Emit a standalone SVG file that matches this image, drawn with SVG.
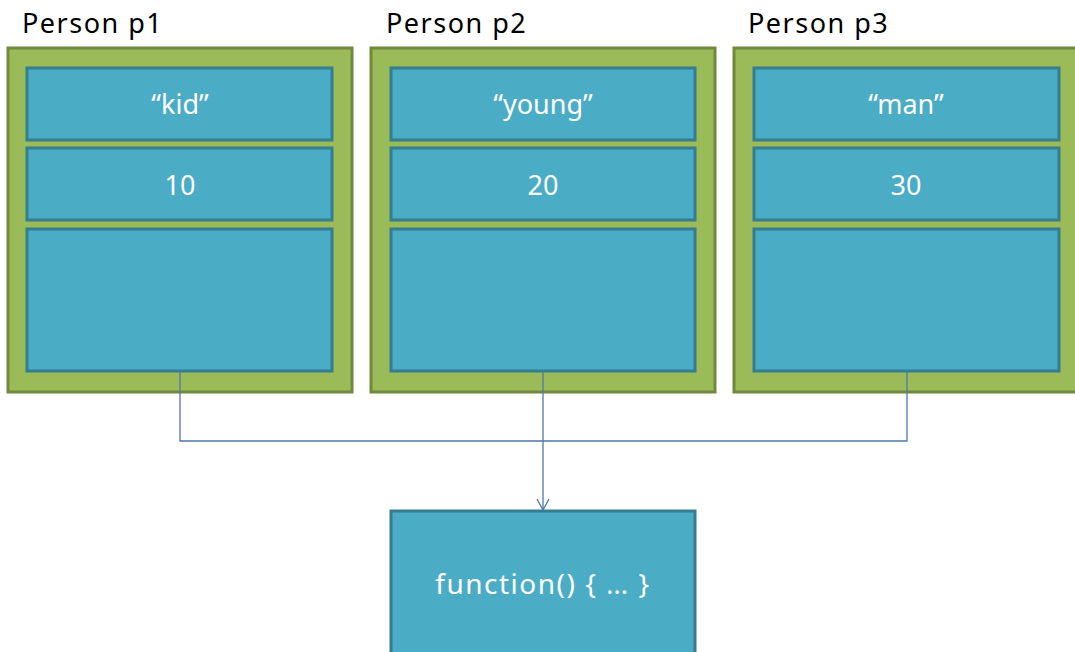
<svg xmlns="http://www.w3.org/2000/svg" width="1075" height="652" viewBox="0 0 1075 652">
<style>
.outer{fill:#9bbb59;stroke:#71893f;stroke-width:3}
.cell{fill:#4bacc6;stroke:#357d91;stroke-width:3}
.title{font-family:"Noto Sans","Open Sans",sans-serif;font-size:27px;letter-spacing:1.5px;fill:#000}
.val{font-family:"Noto Sans","Open Sans",sans-serif;font-size:27px;fill:#fff;text-anchor:middle}
.conn{fill:none;stroke:#4f77a8;stroke-width:1.3}
</style>
<defs>
<marker id="arr" markerWidth="14" markerHeight="14" refX="12" refY="7" orient="auto" markerUnits="userSpaceOnUse" viewBox="0 0 14 14">
<path d="M1,1 L12,7 L1,13" fill="none" stroke="#4f77a8" stroke-width="1.3"/>
</marker>
</defs>
<rect width="1075" height="652" fill="#fff"/>
<g id="p1">
<text class="title" x="22" y="33">Person p1</text>
<rect class="outer" x="8" y="48" width="344" height="344"/>
<rect class="cell" x="27" y="68" width="305" height="72"/>
<text class="val" x="180" y="114">“kid”</text>
<rect class="cell" x="27" y="148" width="305" height="72"/>
<text class="val" x="180" y="195">10</text>
<rect class="cell" x="27" y="229" width="305" height="142"/>
</g>
<g id="p2">
<text class="title" x="386" y="33">Person p2</text>
<rect class="outer" x="371" y="48" width="344" height="344"/>
<rect class="cell" x="391" y="68" width="304" height="72"/>
<text class="val" x="543" y="114">“young”</text>
<rect class="cell" x="391" y="148" width="304" height="72"/>
<text class="val" x="543" y="195">20</text>
<rect class="cell" x="391" y="229" width="304" height="142"/>
</g>
<g id="p3">
<text class="title" x="748" y="33">Person p3</text>
<rect class="outer" x="734" y="48" width="344" height="344"/>
<rect class="cell" x="754" y="68" width="305" height="72"/>
<text class="val" x="906" y="114">“man”</text>
<rect class="cell" x="754" y="148" width="305" height="72"/>
<text class="val" x="906" y="195">30</text>
<rect class="cell" x="754" y="229" width="305" height="142"/>
</g>
<g id="func">
<rect class="cell" x="391" y="511" width="304" height="150"/>
<text class="val" x="543" y="594" style="font-size:28px;letter-spacing:1.5px">function() { … }</text>
</g>
<g id="connectors">
<path class="conn" d="M180,371 V441 H907 V371"/>
<path class="conn" d="M543,371 V510" marker-end="url(#arr)"/>
</g>
</svg>
